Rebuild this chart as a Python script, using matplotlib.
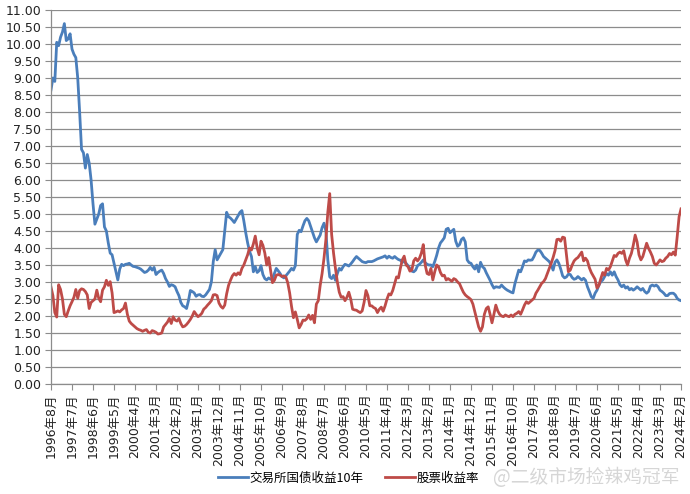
import matplotlib
matplotlib.use('Agg')
import matplotlib.pyplot as plt
from matplotlib.ticker import FormatStrFormatter
import numpy as np

# ---- data (monthly, 1996-08 .. 2024-02) ----
bond_yield_10y = [
    8.65, 9.00, 8.90, 10.05, 9.95, 10.20, 10.35, 10.60, 10.10, 10.15,
    10.30, 9.85, 9.70, 9.60, 9.00, 8.00, 6.90, 6.80, 6.35, 6.75,
    6.50, 6.00, 5.30, 4.70, 4.85, 5.00, 5.25, 5.30, 4.62, 4.50,
    4.15, 3.85, 3.80, 3.55, 3.30, 3.06, 3.38, 3.52, 3.48, 3.52,
    3.53, 3.55, 3.50, 3.46, 3.45, 3.43, 3.41, 3.38, 3.33, 3.28,
    3.30, 3.35, 3.43, 3.35, 3.43, 3.22, 3.28, 3.32, 3.35, 3.25,
    3.10, 3.00, 2.87, 2.92, 2.90, 2.86, 2.72, 2.60, 2.40, 2.30,
    2.27, 2.22, 2.45, 2.75, 2.72, 2.68, 2.58, 2.62, 2.63, 2.58,
    2.57, 2.62, 2.70, 2.78, 3.00, 3.60, 3.95, 3.65, 3.75, 3.85,
    3.95, 4.50, 5.05, 4.92, 4.88, 4.82, 4.75, 4.85, 4.95, 5.05,
    5.10, 4.80, 4.45, 4.15, 3.90, 3.75, 3.30, 3.45, 3.28, 3.33,
    3.48, 3.22, 3.10, 3.06, 3.12, 3.08, 3.10, 3.25, 3.40, 3.33,
    3.25, 3.16, 3.12, 3.18, 3.25, 3.32, 3.40, 3.35, 3.48, 4.40,
    4.52, 4.48, 4.65, 4.80, 4.87, 4.80, 4.63, 4.45, 4.30, 4.18,
    4.28, 4.38, 4.60, 4.73, 4.50, 3.65, 3.15, 3.10, 3.20, 3.05,
    3.25, 3.40, 3.35, 3.45, 3.52, 3.50, 3.47, 3.53, 3.60, 3.68,
    3.75, 3.70, 3.65, 3.60, 3.58, 3.57, 3.60, 3.60, 3.60, 3.62,
    3.65, 3.68, 3.70, 3.72, 3.74, 3.77, 3.70, 3.76, 3.72, 3.70,
    3.75, 3.70, 3.66, 3.64, 3.58, 3.60, 3.55, 3.48, 3.40, 3.32,
    3.30, 3.35, 3.48, 3.52, 3.58, 3.65, 3.57, 3.52, 3.50, 3.50,
    3.45, 3.60, 3.78, 4.00, 4.15, 4.22, 4.30, 4.55, 4.58, 4.45,
    4.50, 4.55, 4.20, 4.05, 4.10, 4.25, 4.30, 4.18, 3.65, 3.57,
    3.55, 3.45, 3.38, 3.50, 3.30, 3.58, 3.45, 3.40, 3.27, 3.16,
    3.05, 2.92, 2.82, 2.86, 2.85, 2.84, 2.91, 2.85, 2.80, 2.76,
    2.73, 2.70, 2.68, 2.95, 3.15, 3.35, 3.30, 3.45, 3.62, 3.60,
    3.65, 3.64, 3.65, 3.75, 3.88, 3.94, 3.93, 3.85, 3.75, 3.70,
    3.65, 3.60, 3.50, 3.35, 3.58, 3.65, 3.55, 3.38, 3.18, 3.12,
    3.15, 3.23, 3.22, 3.13, 3.08, 3.10, 3.16, 3.11, 3.06, 3.11,
    3.05, 2.86, 2.72, 2.57, 2.52, 2.67, 2.76, 2.91, 3.01, 3.06,
    3.16, 3.25, 3.20, 3.30, 3.20, 3.30, 3.16, 3.06, 2.92, 2.86,
    2.91, 2.82, 2.86, 2.77, 2.81, 2.76, 2.80, 2.86, 2.81, 2.76,
    2.81, 2.72, 2.67, 2.72, 2.88, 2.91, 2.88, 2.91, 2.86, 2.76,
    2.72, 2.67, 2.60, 2.60, 2.66, 2.67, 2.67, 2.62, 2.52, 2.47,
    2.45,
]

stock_yield = [
    2.85, 2.60, 2.10, 1.97, 2.92, 2.78, 2.50, 2.05, 1.98, 2.15,
    2.30, 2.42, 2.55, 2.78, 2.52, 2.75, 2.80, 2.78, 2.72, 2.62,
    2.22, 2.40, 2.45, 2.50, 2.76, 2.52, 2.42, 2.76, 2.86, 3.05,
    2.90, 3.01, 2.68, 2.10, 2.12, 2.15, 2.12, 2.18, 2.22, 2.38,
    2.05, 1.85, 1.78, 1.73, 1.68, 1.63, 1.60, 1.58, 1.55, 1.58,
    1.60, 1.52, 1.50, 1.57, 1.55, 1.52, 1.47, 1.48, 1.50, 1.68,
    1.75, 1.82, 1.93, 1.78, 1.98, 1.88, 1.85, 1.93, 1.78, 1.68,
    1.70, 1.75, 1.82, 1.90, 2.00, 2.13, 2.05, 1.98, 2.02, 2.08,
    2.20, 2.25, 2.32, 2.38, 2.45, 2.62, 2.63, 2.60, 2.38, 2.28,
    2.23, 2.32, 2.65, 2.90, 3.05, 3.18, 3.25, 3.20, 3.27, 3.22,
    3.40, 3.50, 3.65, 3.80, 4.00, 3.94, 4.12, 4.35, 4.00, 3.80,
    4.20, 4.08, 3.85, 3.50, 3.72, 3.35, 2.98, 3.05, 3.20, 3.22,
    3.20, 3.16, 3.18, 3.15, 2.98, 2.68, 2.28, 1.95, 2.12, 1.90,
    1.65, 1.75, 1.88, 1.87, 1.92, 2.03, 1.90, 2.02, 1.80, 2.35,
    2.45, 2.90, 3.25, 3.70, 4.25, 5.05, 5.60, 4.40, 3.85, 3.40,
    3.00, 2.70, 2.55, 2.57, 2.45, 2.55, 2.70, 2.50, 2.20, 2.18,
    2.17, 2.13, 2.10, 2.15, 2.40, 2.75, 2.60, 2.30, 2.30, 2.25,
    2.22, 2.10, 2.20, 2.26, 2.14, 2.30, 2.50, 2.65, 2.62, 2.75,
    2.95, 3.15, 3.12, 3.40, 3.65, 3.76, 3.50, 3.45, 3.32, 3.35,
    3.62, 3.70, 3.62, 3.70, 3.85, 4.10, 3.50, 3.25, 3.22, 3.40,
    3.06, 3.30, 3.50, 3.45, 3.28, 3.18, 3.20, 3.06, 3.10, 3.06,
    3.02, 3.10, 3.07, 3.00, 2.95, 2.82, 2.70, 2.62, 2.57, 2.53,
    2.48, 2.35, 2.12, 1.90, 1.68, 1.55, 1.68, 2.05, 2.22, 2.27,
    2.05, 1.80, 2.05, 2.32, 2.15, 2.05, 2.00, 1.98, 2.03, 2.00,
    1.98, 2.03, 1.98, 2.05, 2.08, 2.13, 2.05, 2.18, 2.32, 2.42,
    2.37, 2.42, 2.47, 2.52, 2.67, 2.76, 2.86, 2.96, 3.01, 3.10,
    3.25, 3.40, 3.55, 3.72, 3.92, 4.25, 4.26, 4.20, 4.32, 4.30,
    3.80, 3.30, 3.35, 3.50, 3.62, 3.68, 3.72, 3.80, 3.88, 3.62,
    3.70, 3.62, 3.42, 3.28, 3.18, 3.08, 2.82, 2.90, 3.10, 3.28,
    3.20, 3.40, 3.35, 3.45, 3.62, 3.78, 3.75, 3.84, 3.88, 3.84,
    3.92, 3.65, 3.50, 3.70, 3.84, 4.08, 4.38, 4.18, 3.80, 3.65,
    3.75, 3.94, 4.14, 3.99, 3.88, 3.75, 3.55, 3.50, 3.57, 3.65,
    3.60, 3.62, 3.70, 3.75, 3.84, 3.80, 3.88, 3.79, 4.33, 4.92,
    5.15,
]

tick_labels = [
    '1996年8月', '1997年7月', '1998年6月', '1999年5月', '2000年4月', '2001年3月',
    '2002年2月', '2003年1月', '2003年12月', '2004年11月', '2005年10月', '2006年9月',
    '2007年8月', '2008年7月', '2009年6月', '2010年5月', '2011年4月', '2012年3月',
    '2013年2月', '2014年1月', '2014年12月', '2015年11月', '2016年10月', '2017年9月',
    '2018年8月', '2019年7月', '2020年6月', '2021年5月', '2022年4月', '2023年3月',
    '2024年2月',
]

series_names = ['交易所国债收益10年', '股票收益率']

# ---- drawing ----
plt.rcParams['font.family'] = ['DejaVu Sans', 'Noto Sans CJK SC']

W, H = 690, 494
fig = plt.figure(figsize=(W / 100, H / 100), dpi=100)
ax = fig.add_axes([51 / W, 1 - 384 / H, 630 / W, 374 / H])

x = np.arange(len(bond_yield_10y))
l1, = ax.plot(x, bond_yield_10y, color='#4A7EBB', lw=2.0, solid_joinstyle='round')
l2, = ax.plot(x, stock_yield, color='#BE4B48', lw=2.0, solid_joinstyle='round')

ax.set_xlim(0, len(bond_yield_10y) - 1)
ax.set_ylim(0, 11)
ax.set_yticks(np.arange(0, 11.01, 0.5))
ax.yaxis.set_major_formatter(FormatStrFormatter('%.2f'))
ax.yaxis.grid(True, color='#8c8c8c', lw=0.9)
ax.set_axisbelow(True)

step = 11
ax.set_xticks(np.arange(0, len(bond_yield_10y), step))
ax.set_xticklabels(tick_labels, rotation=90, fontsize=9)

for s in ['top', 'right']:
    ax.spines[s].set_visible(False)
for s in ['left', 'bottom']:
    ax.spines[s].set_color('#8c8c8c')
    ax.spines[s].set_linewidth(0.9)

ax.tick_params(axis='y', length=4, color='#8c8c8c', labelsize=9, pad=3, labelcolor='#222222')
ax.tick_params(axis='x', length=4, color='#8c8c8c', pad=3, labelcolor='#222222')

fig.legend([l1, l2], series_names, loc='center', bbox_to_anchor=(0.505, 0.032),
           ncol=2, frameon=False, handlelength=2.4, columnspacing=1.8,
           handletextpad=0.1,
           prop={'family': ['Noto Sans CJK SC', 'DejaVu Sans'], 'size': 9})

fig.text(0.85, 0.034, '@二级市场捡辣鸡冠军', color='#d6d6d6', fontsize=13.5,
         ha='center', va='center', family=['Noto Sans CJK SC', 'DejaVu Sans'])

fig.savefig('out.png', dpi=100)
